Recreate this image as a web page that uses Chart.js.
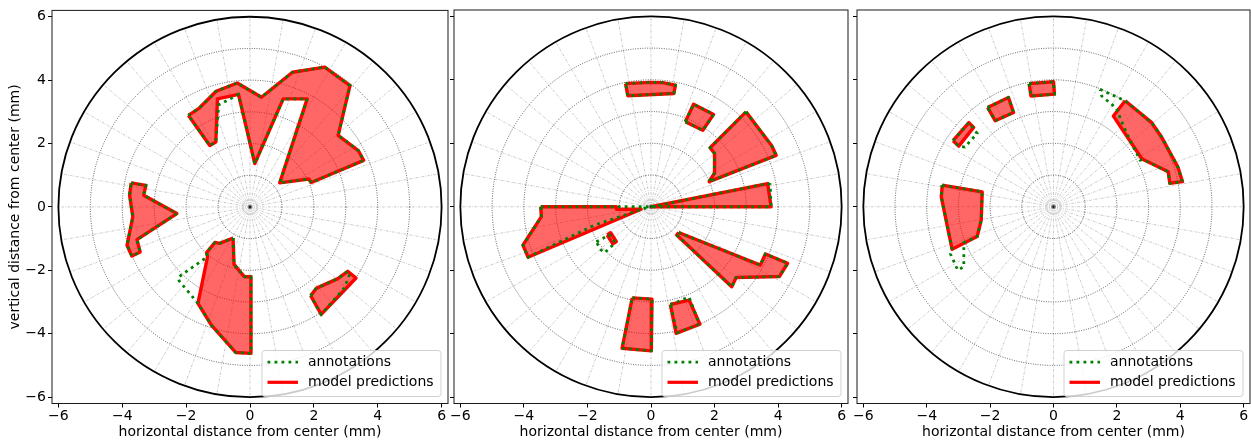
<!DOCTYPE html>
<html>
<head>
<meta charset="utf-8">
<script src="https://cdn.jsdelivr.net/npm/chart.js@4.4.1/dist/chart.umd.min.js"></script>
<style>
  html, body { margin: 0; padding: 0; background: #ffffff; width: 1251px; height: 442px; overflow: hidden; }
  .pane { position: absolute; top: 0; height: 442px; }
  canvas { display: block; }
</style>
</head>
<body>
<div class="pane" style="left:0px;width:451px"><canvas id="c1" width="451" height="442" style="width:451px;height:442px"></canvas></div>
<div class="pane" style="left:449px;width:402px"><canvas id="c2" width="402" height="442" style="width:402px;height:442px"></canvas></div>
<div class="pane" style="left:851px;width:400px"><canvas id="c3" width="400" height="442" style="width:400px;height:442px"></canvas></div>
<script>
// ---------------- DATA (mm) ----------------
const xTickValues = [-6, -4, -2, 0, 2, 4, 6];
const yTickValues = [-6, -4, -2, 0, 2, 4, 6];
const axisLimit = 6.2;
const ringRadii = [1, 2, 3, 4, 5];
const outerRadius = 6;
const spokeStepDeg = 10;
const xTitle = 'horizontal distance from center (mm)';
const yTitle = 'vertical distance from center (mm)';
const legendLabels = ['annotations', 'model predictions'];

// Panel 1
const p1PredA = [[-1.93,2.89],[-1.61,3.10],[-1.06,3.65],[-0.40,3.91],[0.36,3.46],[1.33,4.25],[2.34,4.41],[3.13,3.83],[2.76,2.26],[3.39,1.78],[3.56,1.47],[1.92,0.77],[1.84,0.88],[0.93,0.76],[1.79,3.41],[1.04,3.41],[0.15,1.37],[-0.36,3.55],[-1.02,3.41],[-1.07,2.05],[-1.26,1.94]];
const p1AnnA  = [[-1.93,2.89],[-1.61,3.10],[-1.06,3.65],[-0.40,3.91],[0.36,3.46],[1.33,4.25],[2.34,4.41],[3.13,3.83],[2.76,2.26],[3.39,1.78],[3.56,1.47],[1.92,0.77],[1.84,0.88],[0.93,0.76],[1.79,3.41],[1.04,3.41],[0.15,1.37],[-0.36,3.55],[-0.72,3.36],[-0.98,3.22],[-1.07,2.05],[-1.26,1.94]];
const p1PredB = [[-3.72,0.76],[-3.26,0.68],[-3.33,0.37],[-2.29,-0.21],[-3.54,-1.03],[-3.44,-1.42],[-3.70,-1.55],[-3.85,-1.21],[-3.67,-0.31],[-3.77,0.37]];
const p1AnnB  = [[-3.72,0.76],[-3.26,0.68],[-3.33,0.37],[-2.29,-0.21],[-3.54,-1.03],[-3.44,-1.42],[-3.70,-1.55],[-3.85,-1.21],[-3.67,-0.31],[-3.77,0.37]];
const p1PredC = [[-0.53,-0.98],[-0.50,-1.81],[-0.18,-2.20],[0.03,-2.20],[0.03,-4.62],[-0.45,-4.59],[-1.21,-3.73],[-1.63,-3.04],[-1.33,-1.57],[-1.36,-1.44],[-1.10,-1.12],[-0.95,-1.15]];
const p1AnnC  = [[-0.53,-0.98],[-0.50,-1.81],[-0.18,-2.20],[0.03,-2.20],[0.03,-4.62],[-0.45,-4.59],[-1.21,-3.73],[-1.63,-3.04],[-2.22,-2.33],[-2.25,-2.22],[-1.33,-1.57],[-1.36,-1.44],[-1.10,-1.12],[-0.95,-1.15]];
const p1PredD = [[1.90,-2.80],[2.07,-2.57],[2.75,-2.26],[3.06,-2.03],[3.32,-2.24],[2.23,-3.39]];
const p1AnnD  = [[1.90,-2.80],[2.07,-2.57],[2.75,-2.26],[3.06,-2.03],[3.12,-2.12],[2.96,-2.55],[2.23,-3.39]];

// Panel 2
const p2PredA = [[-0.80,3.88],[-0.05,3.92],[0.37,3.91],[0.77,3.83],[0.72,3.57],[-0.73,3.50]];
const p2PredB = [[1.08,2.68],[1.34,3.23],[1.97,2.91],[1.63,2.41]];
const p2PredC = [[2.99,2.99],[3.80,1.92],[3.94,1.62],[1.83,0.79],[1.99,1.05],[2.00,1.68],[1.86,1.86]];
const p2PredD = [[0.00,0.00],[3.67,0.73],[3.78,0.00]];
const p2AnnD  = [[0.00,0.00],[3.67,0.73],[3.75,0.70],[3.78,0.00]];
const p2PredE = [[-3.47,0.00],[-1.09,0.00],[-1.09,-0.08],[-0.31,-0.08],[-3.87,-1.59],[-4.03,-1.21],[-3.45,-0.31]];
const p2AnnE  = [[-3.47,0.00],[-0.05,0.00],[-1.78,-0.58],[-3.87,-1.59],[-4.03,-1.21],[-3.45,-0.31]];
const p2PredF = [[-1.38,-0.89],[-1.27,-0.82],[-1.09,-1.10],[-1.20,-1.17]];
const p2AnnF  = [[-1.72,-1.10],[-1.31,-0.89],[-1.12,-1.13],[-1.46,-1.45],[-1.60,-1.34]];
const p2PredG = [[0.87,-0.81],[3.44,-1.84],[3.60,-1.49],[4.30,-1.78],[4.04,-2.20],[2.68,-2.23],[2.54,-2.52],[0.81,-0.89]];
const p2PredH = [[-0.59,-2.87],[0.03,-2.91],[0.01,-4.54],[-0.91,-4.46]];
const p2PredI = [[0.61,-3.08],[1.20,-2.94],[1.54,-3.70],[0.79,-3.99]];
const p2AnnI  = [[0.61,-3.08],[1.20,-2.85],[1.52,-3.70],[0.82,-3.97]];

// Panel 3
const p3PredA = [[-0.77,3.88],[0.00,3.94],[0.03,3.55],[-0.71,3.49]];
const p3PredB = [[-2.08,3.13],[-1.42,3.44],[-1.26,2.97],[-1.84,2.71]];
const p3PredC = [[-3.17,2.08],[-2.67,2.65],[-2.52,2.50],[-2.99,1.91]];
const p3AnnC  = [[-3.17,2.08],[-2.67,2.65],[-2.41,2.31],[-2.80,1.88],[-2.99,1.91]];
const p3PredD = [[2.26,3.34],[3.10,2.65],[3.41,2.20],[3.93,1.24],[4.07,0.79],[3.67,0.74],[3.62,1.10],[2.83,1.49],[2.78,1.52],[1.89,2.86]];
const p3AnnD  = [[1.47,3.70],[2.26,3.34],[3.10,2.65],[3.41,2.20],[3.93,1.24],[4.07,0.79],[3.67,0.74],[3.62,1.10],[2.83,1.49],[2.73,1.47],[2.41,2.10],[2.15,2.68],[1.99,3.10],[1.52,3.49]];
const p3PredE = [[-3.51,0.68],[-2.25,0.47],[-2.28,-0.42],[-2.41,-0.94],[-3.20,-1.34],[-3.54,0.31]];
const p3AnnE  = [[-3.51,0.68],[-2.25,0.47],[-2.28,-0.42],[-2.41,-0.94],[-2.83,-1.13],[-2.83,-1.89],[-3.02,-2.00],[-3.25,-1.49],[-3.20,-1.34],[-3.54,0.31]];

const panel1 = [[p1PredA,p1AnnA],[p1PredB,p1AnnB],[p1PredC,p1AnnC],[p1PredD,p1AnnD]];
const panel2 = [[p2PredA,p2PredA],[p2PredB,p2PredB],[p2PredC,p2PredC],[p2PredD,p2AnnD],[p2PredE,p2AnnE],[p2PredF,p2AnnF],[p2PredG,p2PredG],[p2PredH,p2PredH],[p2PredI,p2AnnI]];
const panel3 = [[p3PredA,p3PredA],[p3PredB,p3PredB],[p3PredC,p3AnnC],[p3PredD,p3AnnD],[p3PredE,p3AnnE]];

// ---------------- STYLE ----------------
const FONT = "'DejaVu Sans', 'Liberation Sans', sans-serif";
const PRED_COLOR = '#ff0000';
const PRED_FILL = 'rgba(255,0,0,0.6)';
const ANN_COLOR = '#008000';
const ANN_DASH = [2.8, 4.2];

function toPoints(arr) {
  const pts = arr.map(p => ({x: p[0], y: p[1]}));
  pts.push({x: arr[0][0], y: arr[0][1]});
  return pts;
}
function fmtTick(v) { return v < 0 ? '\u2212' + Math.abs(v) : String(v); }

const polarPlugin = {
  id: 'polarDecor',
  beforeDatasetsDraw(chart) {
    const {ctx, chartArea: a, scales: {x, y}} = chart;
    const cx = x.getPixelForValue(0), cy = y.getPixelForValue(0);
    const sx = x.getPixelForValue(1) - cx, sy = cy - y.getPixelForValue(1);
    ctx.save();
    ctx.beginPath(); ctx.rect(a.left, a.top, a.width, a.height); ctx.clip();
    ctx.lineWidth = 0.8;
    ctx.strokeStyle = 'rgba(0,0,0,0.27)';
    ctx.setLineDash([2.6, 1.3, 0.8, 1.3]);
    for (let deg = 0; deg < 360; deg += spokeStepDeg) {
      const t = deg * Math.PI / 180;
      ctx.beginPath();
      ctx.moveTo(cx, cy);
      ctx.lineTo(x.getPixelForValue(outerRadius * Math.cos(t)), y.getPixelForValue(outerRadius * Math.sin(t)));
      ctx.stroke();
    }
    ctx.strokeStyle = 'rgba(0,0,0,0.85)';
    ctx.setLineDash([0.9, 1.5]);
    for (const r of ringRadii) {
      ctx.beginPath();
      ctx.ellipse(cx, cy, r * sx, r * sy, 0, 0, Math.PI * 2);
      ctx.stroke();
    }
    ctx.restore();
  },
  afterDatasetsDraw(chart) {
    const {ctx, scales: {x, y}} = chart;
    const cx = x.getPixelForValue(0), cy = y.getPixelForValue(0);
    const sx = x.getPixelForValue(1) - cx, sy = cy - y.getPixelForValue(1);
    ctx.save();
    ctx.strokeStyle = '#000';
    ctx.lineWidth = 1.8;
    ctx.setLineDash([]);
    ctx.beginPath();
    ctx.ellipse(cx, cy, outerRadius * sx, outerRadius * sy, 0, 0, Math.PI * 2);
    ctx.stroke();
    ctx.restore();
  },
  afterDraw(chart) {
    const {ctx, chartArea: a} = chart;
    ctx.save();
    // frame
    ctx.strokeStyle = '#1a1a1a';
    ctx.lineWidth = 1;
    ctx.setLineDash([]);
    ctx.strokeRect(a.left, a.top, a.width, a.height);
    // legend
    const w = 179, h = 46, gap = 7;
    const bx = a.right - gap - w, by = a.bottom - gap - h;
    ctx.beginPath();
    ctx.roundRect(bx, by, w, h, 3);
    ctx.fillStyle = 'rgba(255,255,255,0.8)';
    ctx.fill();
    ctx.strokeStyle = 'rgba(204,204,204,0.9)';
    ctx.lineWidth = 1;
    ctx.stroke();
    const rows = [by + 11.6, by + 31.8];
    ctx.lineCap = 'butt';
    ctx.strokeStyle = ANN_COLOR; ctx.lineWidth = 2.8; ctx.setLineDash(ANN_DASH);
    ctx.beginPath(); ctx.moveTo(bx + 5.5, rows[0]); ctx.lineTo(bx + 36, rows[0]); ctx.stroke();
    ctx.strokeStyle = PRED_COLOR; ctx.lineWidth = 3.2; ctx.setLineDash([]);
    ctx.beginPath(); ctx.moveTo(bx + 5.5, rows[1]); ctx.lineTo(bx + 36, rows[1]); ctx.stroke();
    ctx.fillStyle = '#000';
    ctx.font = '14px ' + FONT;
    ctx.textAlign = 'left';
    ctx.textBaseline = 'middle';
    ctx.fillText(legendLabels[0], bx + 46, rows[0]);
    ctx.fillText(legendLabels[1], bx + 46, rows[1]);
    ctx.restore();
  }
};

function makeChart(id, polys, cfg) {
  const datasets = [];
  polys.forEach(([pred, ann]) => {
    datasets.push({
      data: toPoints(ann), order: 0, showLine: true, fill: false,
      borderColor: ANN_COLOR, borderWidth: 2.8, borderDash: ANN_DASH,
      pointRadius: 0, tension: 0
    });
    datasets.push({
      data: toPoints(pred), order: 1, showLine: true, fill: 'shape',
      backgroundColor: PRED_FILL, borderColor: PRED_COLOR, borderWidth: 3.4,
      borderJoinStyle: 'round', pointRadius: 0, tension: 0
    });
  });
  const tickFont = {family: FONT, size: 14};
  return new Chart(document.getElementById(id), {
    type: 'line',
    data: {datasets},
    options: {
      responsive: false,
      animation: false,
      events: [],
      layout: {padding: {top: 10, right: cfg.padRight, left: 0, bottom: 0}},
      plugins: {legend: {display: false}, tooltip: {enabled: false}},
      scales: {
        x: {
          type: 'linear', min: -axisLimit, max: axisLimit,
          afterBuildTicks: s => { s.ticks = xTickValues.map(v => ({value: v})); },
          afterFit: s => { s.height = 38.5; },
          ticks: {font: tickFont, color: '#000', padding: 0, maxRotation: 0, autoSkip: false, callback: v => fmtTick(v)},
          grid: {drawOnChartArea: false, drawTicks: true, tickLength: 4, color: '#000', lineWidth: 1},
          border: {display: false},
          title: {display: true, text: xTitle, font: tickFont, color: '#000', padding: {top: 0, bottom: 1}}
        },
        y: {
          type: 'linear', min: -axisLimit, max: axisLimit,
          afterBuildTicks: s => { s.ticks = yTickValues.map(v => ({value: v})); },
          afterFit: s => { s.width = cfg.yWidth; },
          ticks: {display: cfg.showY, font: tickFont, color: '#000', padding: 2, autoSkip: false, callback: v => fmtTick(v)},
          grid: {drawOnChartArea: false, drawTicks: true, tickLength: 4, color: '#000', lineWidth: 1},
          border: {display: false},
          title: {display: cfg.showY, text: yTitle, font: tickFont, color: '#000', padding: {top: 7, bottom: 0}}
        }
      }
    },
    plugins: [polarPlugin]
  });
}

makeChart('c1', panel1, {yWidth: 52, padRight: 3, showY: true});
makeChart('c2', panel2, {yWidth: 5, padRight: 3, showY: false});
makeChart('c3', panel3, {yWidth: 6, padRight: 1, showY: false});
</script>
</body>
</html>
